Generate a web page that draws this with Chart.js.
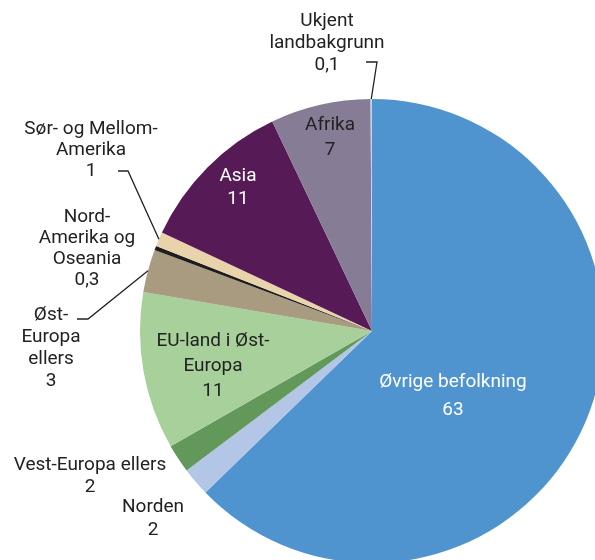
<!DOCTYPE html>
<html>
<head>
<meta charset="utf-8">
<script src="https://cdn.jsdelivr.net/npm/chart.js@4"></script>
<style>
  html, body { margin: 0; padding: 0; background: #fff; overflow: hidden; width: 595px; height: 560px; }
  #pie { position: absolute; left: 0; top: 0; }
</style>
</head>
<body>
<canvas id="pie" width="620" height="580"></canvas>
<script>
// Data (percent)
const categories = [
    "Øvrige befolkning", "Norden", "Vest-Europa ellers", "EU-land i Øst-Europa",
    "Øst-Europa ellers", "Nord-Amerika og Oseania", "Sør- og Mellom-Amerika",
    "Asia", "Afrika", "Ukjent landbakgrunn"
];
const values = [63, 2, 2, 11, 3, 0.3, 1, 11, 7, 0.1];
const colors = ["#4f93cf", "#b3c6e6", "#62985a", "#a8d09a", "#a89b80",
    "#1e1e1e", "#e8d3ab", "#561b57", "#877c96", "#cfcfcf"];

// how the label text wraps (the value is added as last line)
const labelLines = [
    ["Øvrige befolkning"], ["Norden"], ["Vest-Europa ellers"], ["EU-land i Øst-", "Europa"],
    ["Øst-", "Europa", "ellers"], ["Nord-", "Amerika og", "Oseania"], ["Sør- og Mellom-", "Amerika"],
    ["Asia"], ["Afrika"], ["Ukjent", "landbakgrunn"]
];

// label placement: x center, y of first line, line height, colour, leader elbow
const labelPos = [
    { x: 453, y: 382, lh: 28, color: "#fff" },
    { x: 153, y: 507, lh: 23, color: "#222" },
    { x: 90, y: 465, lh: 22, color: "#222" },
    { x: 213, y: 341, lh: 25, color: "#222" },
    { x: 51, y: 315, lh: 22, color: "#222", elbow: [88, 319], end: 77 },
    { x: 87, y: 217, lh: 21, color: "#222" },
    { x: 91, y: 129, lh: 21, color: "#222", elbow: [128, 171], end: 118 },
    { x: 238, y: 176, lh: 23, color: "#fff" },
    { x: 330, y: 125, lh: 25, color: "#222" },
    { x: 327, y: 21, lh: 22, color: "#222", elbow: [377, 62], end: 366 }
];

const labelPlugin = {
    id: "pieLabels",
    afterDraw(chart) {
        const ctx = chart.ctx;
        const arcs = chart.getDatasetMeta(0).data;
        ctx.save();
        ctx.font = "19px Roboto";
        ctx.textAlign = "center";
        ctx.textBaseline = "middle";
        for (let i = 0; i < values.length; i++) {
            const p = labelPos[i];
            const lines = labelLines[i].concat([String(values[i]).replace(".", ",")]);
            ctx.fillStyle = p.color;
            lines.forEach((t, k) => ctx.fillText(t, p.x, p.y + k * p.lh));

            if (p.elbow) {
                const a = arcs[i];
                const mid = (a.startAngle + a.endAngle) / 2;
                const sx = a.x + Math.cos(mid) * a.outerRadius;
                const sy = a.y + Math.sin(mid) * a.outerRadius;
                ctx.strokeStyle = "#222";
                ctx.lineWidth = 1.3;
                ctx.beginPath();
                ctx.moveTo(sx, sy);
                ctx.lineTo(p.elbow[0], p.elbow[1]);
                ctx.lineTo(p.end, p.elbow[1]);
                ctx.stroke();
            }
        }
        ctx.restore();
    }
};

new Chart(document.getElementById("pie"), {
    type: "pie",
    data: {
        labels: categories,
        datasets: [{
            data: values,
            backgroundColor: colors,
            borderWidth: 0,
            hoverOffset: 0,
            offset: 0
        }]
    },
    options: {
        responsive: false,
        animation: false,
        radius: 232,
        layout: { padding: { left: 140, right: 16, top: 99, bottom: 17 } },
        plugins: {
            legend: { display: false },
            tooltip: { enabled: false }
        }
    },
    plugins: [labelPlugin]
});
</script>
</body>
</html>
